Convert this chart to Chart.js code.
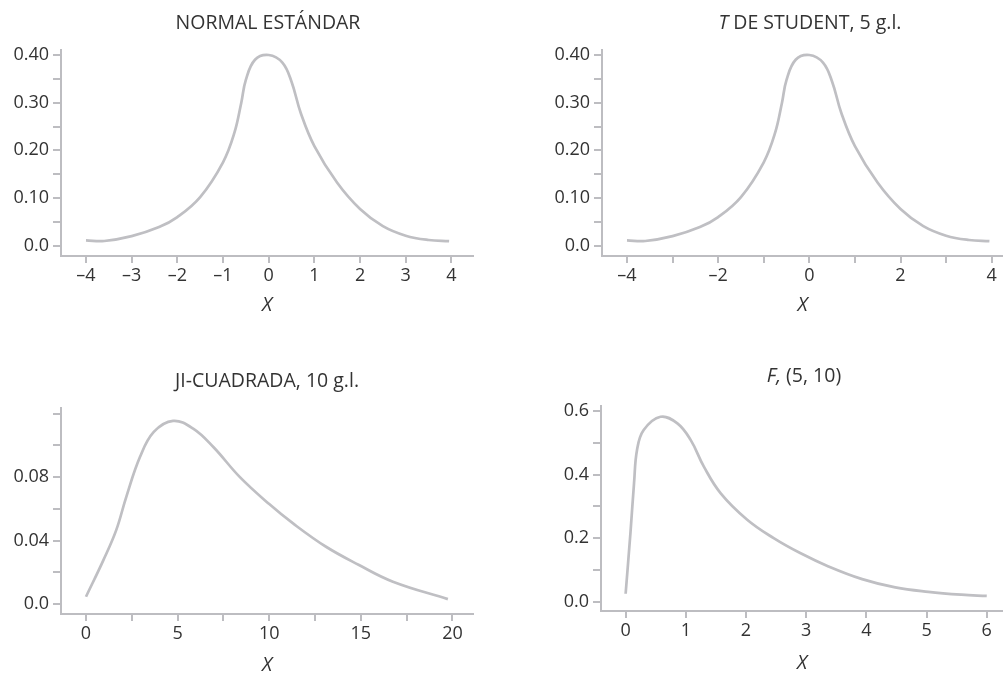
<!DOCTYPE html>
<html lang="es">
<head>
<meta charset="utf-8">
<title>Distribuciones</title>
<script src="https://cdn.jsdelivr.net/npm/chart.js@4.4.1/dist/chart.umd.min.js"></script>
<style>
  html, body { margin: 0; background: #fff; overflow: hidden; }
  #lienzo { position: relative; width: 1003px; height: 674px; }
  #lienzo canvas { position: absolute; }
</style>
</head>
<body>
<div id="lienzo">
  <canvas id="normal" width="501" height="350" style="left:0;top:0"></canvas>
  <canvas id="student" width="502" height="350" style="left:501px;top:0"></canvas>
  <canvas id="ji" width="501" height="350" style="left:0;top:337px"></canvas>
  <canvas id="efe" width="502" height="350" style="left:501px;top:337px"></canvas>
</div>
<script>
// valores
const normalX = [-4, -3.6, -3, -2.4, -2, -1.5, -1, -0.75, -0.6, -0.5, -0.3, 0, 0.3, 0.5, 0.7, 1, 1.5, 2, 2.5, 3, 3.5, 3.95];
const normalY = [0.011, 0.0098, 0.02, 0.039, 0.06, 0.102, 0.175, 0.237, 0.30, 0.348, 0.39, 0.40, 0.384, 0.344, 0.279, 0.209, 0.132, 0.077, 0.041, 0.021, 0.012, 0.0095];

const studentX = [-4, -3.6, -3, -2.4, -2, -1.5, -1, -0.75, -0.6, -0.5, -0.3, 0, 0.3, 0.5, 0.7, 1, 1.5, 2, 2.5, 3, 3.5, 3.95];
const studentY = [0.011, 0.0098, 0.02, 0.039, 0.06, 0.102, 0.175, 0.237, 0.30, 0.348, 0.39, 0.40, 0.384, 0.344, 0.279, 0.209, 0.132, 0.077, 0.041, 0.021, 0.012, 0.0095];

const jiX = [0, 0.95, 1.65, 2.2, 2.95, 3.7, 4.75, 5.85, 6.95, 8.4, 10, 11.3, 13.1, 14.9, 16.75, 19.75];
const jiY = [0.0046, 0.0277, 0.0466, 0.0676, 0.0928, 0.1085, 0.1155, 0.1106, 0.099, 0.080, 0.063, 0.0508, 0.0361, 0.0246, 0.0141, 0.0031];

const efeX = [0, 0.08, 0.14, 0.19, 0.3, 0.58, 0.86, 1.08, 1.3, 1.58, 2.02, 2.46, 2.9, 3.37, 3.93, 4.48, 5.03, 5.58, 6.0];
const efeY = [0.025, 0.216, 0.373, 0.478, 0.540, 0.582, 0.561, 0.509, 0.425, 0.341, 0.258, 0.200, 0.153, 0.111, 0.071, 0.045, 0.031, 0.022, 0.018];

// marcas de los ejes y sus etiquetas ('' = marca sin numero)
const normalTicksX = [-4, -3, -2, -1, 0, 1, 2, 3, 4];
const normalEtiqX = ["–4", "–3", "–2", "–1", "0", "1", "2", "3", "4"];
const studentTicksX = [-4, -3, -2, -1, 0, 1, 2, 3, 4];
const studentEtiqX = ["–4", "", "–2", "", "0", "", "2", "", "4"];
const ticksY040 = [0, 0.05, 0.10, 0.15, 0.20, 0.25, 0.30, 0.35, 0.40];
const etiqY040 = ["0.0", "", "0.10", "", "0.20", "", "0.30", "", "0.40"];
const jiTicksX = [0, 2.5, 5, 7.5, 10, 12.5, 15, 17.5, 20];
const jiEtiqX = ["0", "", "5", "", "10", "", "15", "", "20"];
const jiTicksY = [0, 0.02, 0.04, 0.06, 0.08, 0.10, 0.12];
const jiEtiqY = ["0.0", "", "0.04", "", "0.08", "", ""];
const efeTicksX = [0, 1, 2, 3, 4, 5, 6];
const efeEtiqX = ["0", "1", "2", "3", "4", "5", "6"];
const efeTicksY = [0, 0.1, 0.2, 0.3, 0.4, 0.5, 0.6];
const efeEtiqY = ["0.0", "", "0.2", "", "0.4", "", "0.6"];

const fuente = "'Open Sans', sans-serif";
const colorEje = "#bdbdc1";
const colorCurva = "#bfbfc3";
const colorTexto = "#333333";
const ALTO = 350;

// titulo con partes en cursiva
const tituloMixto = {
  id: "tituloMixto",
  afterDraw(chart, args, opts) {
    const ctx = chart.ctx;
    ctx.save();
    ctx.fillStyle = colorTexto;
    ctx.textBaseline = "alphabetic";
    ctx.textAlign = "left";
    let total = 0;
    const partes = opts.partes.map(p => {
      const font = (p.cursiva ? "italic " : "") + opts.tam + "px " + fuente;
      ctx.font = font;
      const w = ctx.measureText(p.texto).width;
      total += w;
      return { texto: p.texto, font, w };
    });
    let x = opts.x - total / 2;
    partes.forEach(p => {
      ctx.font = p.font;
      ctx.fillText(p.texto, x, opts.y);
      x += p.w;
    });
    ctx.restore();
  }
};

function crearGrafica(id, xs, ys, p) {
  const altoEjeX = p.bajaX + 9.75;
  return new Chart(document.getElementById(id), {
    type: "line",
    data: {
      datasets: [{
        data: xs.map((x, i) => ({ x: x, y: ys[i] })),
        borderColor: colorCurva,
        borderWidth: 2.7,
        pointRadius: 0,
        fill: false,
        tension: 0.4
      }]
    },
    options: {
      responsive: false,
      animation: false,
      events: [],
      layout: {
        padding: {
          left: 0,
          top: p.area.top,
          right: p.ancho - p.area.right,
          bottom: ALTO - p.area.bottom - altoEjeX
        }
      },
      plugins: {
        legend: { display: false },
        tooltip: { enabled: false },
        tituloMixto: { partes: p.titulo, x: p.tituloX, y: p.tituloY, tam: 19.5 }
      },
      scales: {
        x: {
          type: "linear",
          min: p.xMin,
          max: p.xMax,
          afterBuildTicks: s => { s.ticks = p.ticksX.map(v => ({ value: v })); },
          afterFit: s => { s.height = altoEjeX; },
          border: { display: true, color: colorEje, width: 2 },
          grid: { drawOnChartArea: false, drawTicks: true, tickLength: 7, color: colorEje, lineWidth: 2 },
          ticks: {
            autoSkip: false,
            maxRotation: 0,
            padding: 2,
            color: colorTexto,
            font: { family: fuente, size: 18 },
            callback: (v, i) => p.etiqX[i]
          },
          title: {
            display: true,
            text: "X",
            color: colorTexto,
            padding: 0,
            font: { family: fuente, size: 19.5, style: "italic", lineHeight: 1 }
          }
        },
        y: {
          min: p.yMin,
          max: p.yMax,
          afterBuildTicks: s => { s.ticks = p.ticksY.map(v => ({ value: v })); },
          afterFit: s => { s.width = p.area.left; },
          border: { display: true, color: colorEje, width: 2 },
          grid: { drawOnChartArea: false, drawTicks: true, tickLength: 8, color: colorEje, lineWidth: 2 },
          ticks: {
            autoSkip: false,
            padding: 4,
            color: colorTexto,
            font: { family: fuente, size: 18 },
            callback: (v, i) => p.etiqY[i]
          }
        }
      }
    },
    plugins: [tituloMixto]
  });
}

crearGrafica("normal", normalX, normalY, {
  ancho: 501, area: { left: 61, right: 473, top: 50, bottom: 256 }, bajaX: 49,
  xMin: -4.547, xMax: 4.473, yMin: -0.0216, yMax: 0.4105,
  ticksX: normalTicksX, etiqX: normalEtiqX, ticksY: ticksY040, etiqY: etiqY040,
  titulo: [{ texto: "NORMAL ESTÁNDAR" }], tituloX: 268, tituloY: 29
});

crearGrafica("student", studentX, studentY, {
  ancho: 502, area: { left: 101, right: 502, top: 50, bottom: 256 }, bajaX: 49,
  xMin: -4.548, xMax: 4.248, yMin: -0.0216, yMax: 0.4105,
  ticksX: studentTicksX, etiqX: studentEtiqX, ticksY: ticksY040, etiqY: etiqY040,
  titulo: [{ texto: "T", cursiva: true }, { texto: " DE STUDENT, 5 g.l." }], tituloX: 309, tituloY: 29
});

crearGrafica("ji", jiX, jiY, {
  ancho: 501, area: { left: 61, right: 473, top: 71, bottom: 277 }, bajaX: 51,
  xMin: -1.364, xMax: 21.12, yMin: -0.0063, yMax: 0.1236,
  ticksX: jiTicksX, etiqX: jiEtiqX, ticksY: jiTicksY, etiqY: jiEtiqY,
  titulo: [{ texto: "JI-CUADRADA, 10 g.l." }], tituloX: 267, tituloY: 50
});

crearGrafica("efe", efeX, efeY, {
  ancho: 502, area: { left: 100, right: 502, top: 69, bottom: 274 }, bajaX: 52,
  xMin: -0.409, xMax: 6.27, yMin: -0.0293, yMax: 0.6157,
  ticksX: efeTicksX, etiqX: efeEtiqX, ticksY: efeTicksY, etiqY: efeEtiqY,
  titulo: [{ texto: "F,", cursiva: true }, { texto: " (5, 10)" }], tituloX: 303, tituloY: 45
});
</script>
</body>
</html>
